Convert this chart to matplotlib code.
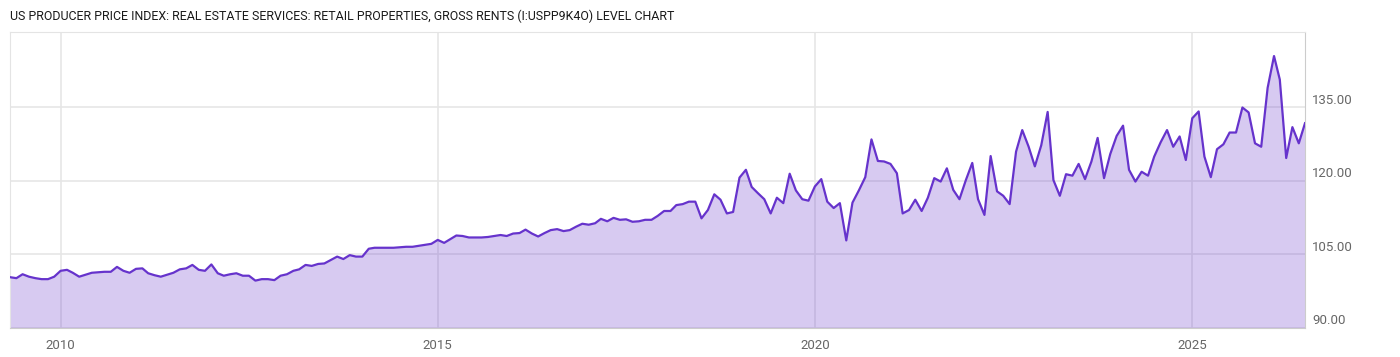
import matplotlib
matplotlib.use("Agg")
import matplotlib.pyplot as plt
import matplotlib.transforms as mtransforms
import pandas as pd

plt.rcParams['font.family'] = ['Roboto', 'DejaVu Sans']

title = "US PRODUCER PRICE INDEX: REAL ESTATE SERVICES: RETAIL PROPERTIES, GROSS RENTS (I:USPP9K4O) LEVEL CHART"

# monthly index values, May 2009 .. Jul 2026
values = [
    100.3, 100.1, 100.9, 100.4, 100.1, 99.9, 99.9, 100.4,                      # 2009
    101.6, 101.8, 101.2, 100.4, 100.8, 101.2, 101.3, 101.4, 101.4, 102.4, 101.6, 101.2,  # 2010
    102.0, 102.1, 101.1, 100.7, 100.4, 100.8, 101.2, 101.9, 102.1, 102.8, 101.8, 101.6,  # 2011
    102.9, 101.1, 100.6, 100.9, 101.1, 100.6, 100.6, 99.6, 99.9, 99.9, 99.7, 100.6,      # 2012
    100.9, 101.6, 101.9, 102.8, 102.6, 103.0, 103.1, 103.8, 104.5, 104.0, 104.8, 104.5,  # 2013
    104.5, 106.1, 106.3, 106.3, 106.3, 106.3, 106.4, 106.5, 106.5, 106.7, 106.9, 107.1,  # 2014
    107.9, 107.3, 108.0, 108.8, 108.7, 108.4, 108.4, 108.4, 108.5, 108.7, 108.9, 108.7,  # 2015
    109.2, 109.3, 110.0, 109.2, 108.6, 109.3, 109.9, 110.1, 109.7, 109.9, 110.6, 111.2,  # 2016
    111.0, 111.3, 112.2, 111.7, 112.4, 112.0, 112.1, 111.6, 111.7, 112.0, 112.0, 112.8,  # 2017
    113.8, 113.8, 115.0, 115.2, 115.7, 115.7, 112.3, 114.0, 117.2, 116.1, 113.3, 113.6,  # 2018
    120.6, 122.2, 118.7, 117.4, 116.2, 113.3, 116.5, 115.4, 121.4, 118.0, 116.2, 115.9,  # 2019
    118.8, 120.3, 115.7, 114.4, 115.4, 107.8, 115.5, 118.0, 120.7, 128.4, 124.0, 123.9,  # 2020
    123.4, 121.5, 113.3, 114.0, 116.1, 113.8, 116.5, 120.5, 119.8, 122.5, 118.1, 116.2,  # 2021
    120.1, 123.6, 116.2, 113.0, 125.0, 117.8, 116.9, 115.2, 125.9, 130.3, 126.9, 122.9,  # 2022
    127.2, 134.0, 120.1, 116.9, 121.3, 121.0, 123.4, 120.3, 123.9, 128.7, 120.5, 125.4,  # 2023
    129.1, 131.2, 122.2, 119.8, 121.8, 121.0, 124.9, 127.8, 130.3, 126.9, 129.0, 124.2,  # 2024
    132.7, 134.1, 124.9, 120.7, 126.4, 127.4, 129.8, 129.8, 134.9, 133.9, 127.6, 126.9,  # 2025
    138.9, 145.4, 140.6, 124.6, 130.9, 127.6, 131.7,                                     # 2026
]
dates = pd.date_range("2009-05-01", periods=len(values), freq="MS")

year_ticks = ["2010", "2015", "2020", "2025"]
y_ticks = [90, 105, 120, 135]

line_color = "#6633cc"
grid_color = "#e6e6e6"
text_color = "#666666"

fig = plt.figure(figsize=(14, 3.57), dpi=100)
ax = fig.add_axes([10 / 1400, 1 - 327.7 / 357, (1305 - 10) / 1400, (327.7 - 32) / 357])

ymin, ymax = 90, 150.3
# translucent fill so the grid shows through slightly darker, like the original
ax.fill_between(dates, values, ymin, color=line_color, alpha=0.26, lw=0, zorder=2)
ax.plot(dates, values, color=line_color, lw=1.6, zorder=3)

ax.set_xlim(dates[0], dates[-1])
ax.set_ylim(ymin, ymax)

ax.set_xticks([pd.Timestamp(y + "-01-01") for y in year_ticks])
ax.set_xticklabels(year_ticks)
ax.set_yticks(y_ticks)
ax.set_yticklabels([])

ax.set_axisbelow(True)
ax.grid(True, color=grid_color, lw=1.2)

ax.tick_params(axis="x", length=0, pad=8, labelsize=9.5, colors=text_color)
ax.tick_params(axis="y", length=0)

# y labels on the right, a bit above their gridline
offset = mtransforms.offset_copy(ax.get_yaxis_transform(), fig=fig, x=7, y=7, units="dots")
for v in y_ticks:
    ax.text(1.0, v, f"{v:.2f}", transform=offset, ha="left", va="center",
            fontsize=9.5, color=text_color)

for side in ["left", "top"]:
    ax.spines[side].set_color("#e4e4e4")
for side in ["right", "bottom"]:
    ax.spines[side].set_color("#cccccc")

fig.text(10 / 1400, 1 - 16 / 357, title, ha="left", va="center", fontsize=8.9,
         color="#1a1a1a")

fig.savefig("out.png", dpi=100)
